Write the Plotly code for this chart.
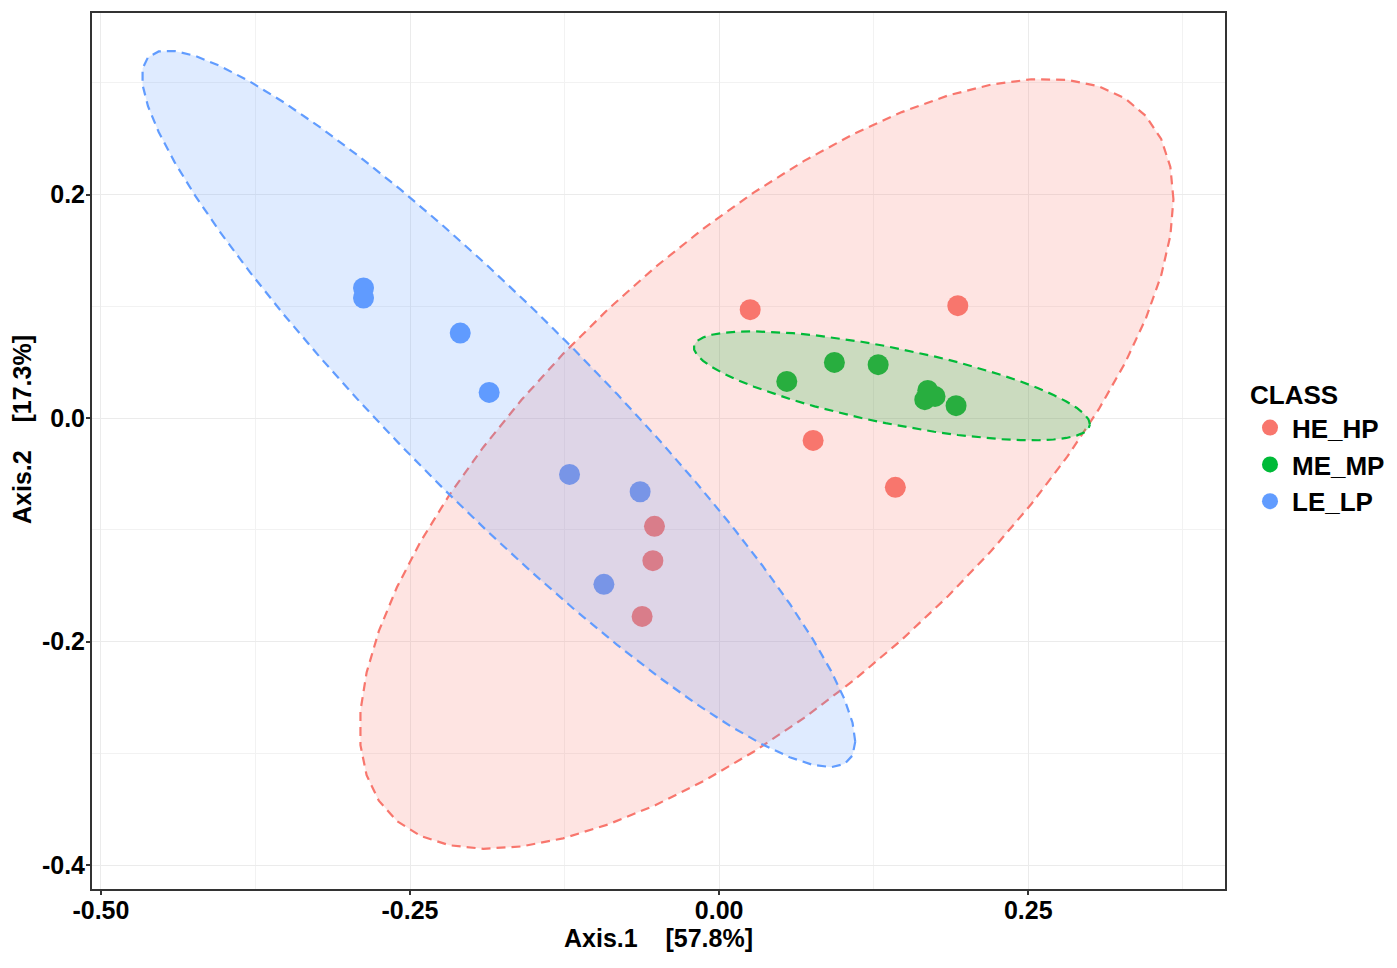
import numpy as np
import plotly.graph_objects as go

# PCoA coordinates
classes = ["HE_HP", "ME_MP", "LE_LP"]
colors = ["#F8766D", "#00BA38", "#619CFF"]

he_hp_x = [0.0251, 0.1930, 0.0760, 0.1425, -0.0523, -0.0536, -0.0623]
he_hp_y = [0.0971, 0.1007, -0.0199, -0.0619, -0.0968, -0.1275, -0.1774]

me_mp_x = [0.0547, 0.0932, 0.1286, 0.1687, 0.1746, 0.1663, 0.1916]
me_mp_y = [0.0329, 0.0499, 0.0479, 0.0249, 0.0195, 0.0166, 0.0112]

le_lp_x = [-0.2876, -0.2876, -0.2094, -0.1860, -0.1210, -0.0639, -0.0932]
le_lp_y = [0.1165, 0.1076, 0.0762, 0.0231, -0.0503, -0.0658, -0.1487]

x_tick_vals = [-0.5, -0.25, 0.0, 0.25]
x_tick_text = ["-0.50", "-0.25", "0.00", "0.25"]
y_tick_vals = [0.2, 0.0, -0.2, -0.4]
y_tick_text = ["0.2", "0.0", "-0.2", "-0.4"]

groups_x = [he_hp_x, me_mp_x, le_lp_x]
groups_y = [he_hp_y, me_mp_y, le_lp_y]


def ellipse(xs, ys, level=0.95, segments=51):
    # ggplot stat_ellipse(type = "norm")
    X = np.column_stack([xs, ys])
    center = X.mean(axis=0)
    shape = np.cov(X, rowvar=False)
    dfd = len(xs) - 1
    fq = dfd / 2 * ((1 - level) ** (-2 / dfd) - 1)  # qf(level, 2, dfd)
    radius = np.sqrt(2 * fq)
    ang = np.arange(segments + 1) * 2 * np.pi / segments
    circle = np.column_stack([np.cos(ang), np.sin(ang)])
    pts = center + radius * circle @ np.linalg.cholesky(shape).T
    return pts[:, 0], pts[:, 1]


def rgba(hex_color, a):
    h = hex_color.lstrip("#")
    r, g, b = (int(h[i:i + 2], 16) for i in (0, 2, 4))
    return f"rgba({r},{g},{b},{a})"


fig = go.Figure()

for name, xs, ys, c in zip(classes, groups_x, groups_y, colors):
    fig.add_trace(
        go.Scatter(
            x=xs, y=ys, mode="markers", name=name,
            marker=dict(color=c, size=21, line=dict(width=0)),
        )
    )

for name, xs, ys, c in zip(classes, groups_x, groups_y, colors):
    ex, ey = ellipse(xs, ys)
    fig.add_trace(
        go.Scatter(
            x=ex, y=ey, mode="lines", fill="toself", showlegend=False,
            fillcolor=rgba(c, 0.2), hoverinfo="skip",
            line=dict(color=c, width=2.2, dash="9px,6px"),
        )
    )

family = "Liberation Sans, Arial, sans-serif"
font = dict(family=family, size=25, color="black", weight="bold")
axis_common = dict(
    showline=True, mirror=True, linecolor="#333333", linewidth=2,
    ticks="outside", ticklen=4, tickwidth=1.5, tickcolor="#333333",
    showgrid=True, gridcolor="#EBEBEB", gridwidth=1.2, zeroline=False,
    tickfont=font, title_font=font, automargin=False, tickmode="array",
)

fig.update_layout(
    width=1389, height=960,
    margin=dict(l=84, r=172, t=5, b=79),
    plot_bgcolor="white", paper_bgcolor="white",
    xaxis=dict(
        range=[-0.5072, 0.4091], tickvals=x_tick_vals, ticktext=x_tick_text,
        ticklabelstandoff=-6,
        minor=dict(tickmode="linear", tick0=0, dtick=0.125, showgrid=True,
                   gridcolor="#F2F2F2", gridwidth=1),
        title=dict(text="Axis.1\u00a0\u00a0\u00a0\u00a0[57.8%]", standoff=4),
        **axis_common,
    ),
    yaxis=dict(
        range=[-0.4213, 0.3626], tickvals=y_tick_vals, ticktext=y_tick_text,
        ticklabelstandoff=-4,
        minor=dict(tickmode="linear", tick0=0, dtick=0.1, showgrid=True,
                   gridcolor="#F2F2F2", gridwidth=1),
        **axis_common,
    ),
    annotations=[
        dict(
            text="Axis.2\u00a0\u00a0\u00a0\u00a0[17.3%]", textangle=-90, font=font,
            xref="paper", yref="paper", x=0, y=0.524, xanchor="center", yanchor="middle",
            xshift=-70, showarrow=False,
        )
    ],
    legend=dict(
        title=dict(text="CLASS", font=dict(family=family, size=26, color="black", weight="bold")),
        font=dict(family=family, size=26, color="black", weight="bold"),
        x=1.0203, xanchor="left", y=0.592, yanchor="top",
        itemwidth=34, bgcolor="rgba(0,0,0,0)",
    ),
    showlegend=True,
)

fig.write_html("out.html")
